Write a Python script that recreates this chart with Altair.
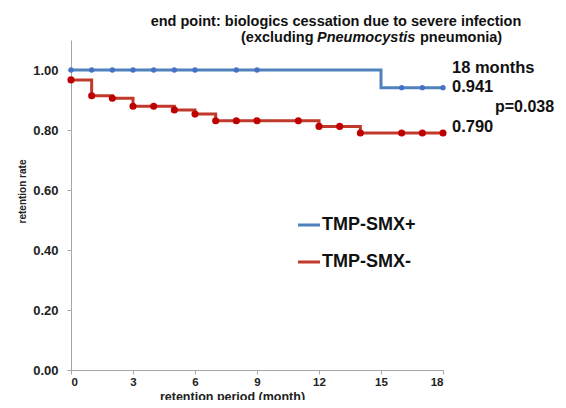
import altair as alt
import pandas as pd

# ---- data ----
red_step_month = [0, 1, 2, 3, 5, 6, 7, 12, 14, 18]
red_step_rate = [0.967, 0.914, 0.906, 0.879, 0.867, 0.853, 0.831, 0.812, 0.790, 0.790]
red_mark_month = [0, 1, 2, 3, 4, 5, 6, 7, 8, 9, 11, 12, 13, 14, 16, 17, 18]
red_mark_rate = [0.967, 0.914, 0.906, 0.879, 0.879, 0.867, 0.853, 0.831, 0.831, 0.831,
                 0.831, 0.812, 0.812, 0.790, 0.790, 0.790, 0.790]
blue_step_month = [0, 15, 18]
blue_step_rate = [1.0, 0.941, 0.941]
blue_mark_month = [0, 1, 2, 3, 4, 5, 6, 8, 9, 16, 17, 18]
blue_mark_rate = [1.0, 1.0, 1.0, 1.0, 1.0, 1.0, 1.0, 1.0, 1.0, 0.941, 0.941, 0.941]

x_ticks = [0, 3, 6, 9, 12, 15, 18]
y_ticks = [0.0, 0.2, 0.4, 0.6, 0.8, 1.0]
series_names = ["TMP-SMX+", "TMP-SMX-"]
series_colors = ["#4f81bd", "#c0392b"]
marker_colors = ["#4472c4", "#c00000"]
title_line1 = "end point: biologics cessation due to severe infection"
annot_texts = ["18 months", "0.941", "p=0.038", "0.790"]

FONT = "Liberation Sans"

xs = alt.Scale(domain=[0, 18], nice=False, zero=False)
ys = alt.Scale(domain=[0, 1.1], nice=False)

x_axis = alt.Axis(values=x_ticks, title="retention period (month)", grid=False,
                  domainColor="#a6a6a6", tickColor="#a6a6a6", tickSize=4,
                  labelFont=FONT, labelFontSize=11.5, labelFontWeight="bold",
                  labelColor="#222", labelPadding=2,
                  titleFont=FONT, titleFontSize=12.5, titleFontWeight="bold",
                  titleColor="#222", titleX=161, titleY=30, titleBaseline="alphabetic")
y_axis = alt.Axis(values=y_ticks, format=".2f", title="retention rate", grid=False,
                  domainColor="#a6a6a6", tickColor="#a6a6a6", tickSize=4,
                  labelFont=FONT, labelFontSize=13, labelFontWeight="bold",
                  labelColor="#222", labelPadding=9,
                  titleFont=FONT, titleFontSize=10, titleFontWeight="bold",
                  titleColor="#222", titleX=-44, titleY=151)

red_line_df = pd.DataFrame({"m": red_step_month, "r": red_step_rate})
red_mark_df = pd.DataFrame({"m": red_mark_month, "r": red_mark_rate})
blue_line_df = pd.DataFrame({"m": blue_step_month, "r": blue_step_rate})
blue_mark_df = pd.DataFrame({"m": blue_mark_month, "r": blue_mark_rate})

blue_line = alt.Chart(blue_line_df).mark_line(
    interpolate="step-after", color=series_colors[0], strokeWidth=3
).encode(x=alt.X("m:Q", scale=xs, axis=x_axis), y=alt.Y("r:Q", scale=ys, axis=y_axis))

blue_pts = alt.Chart(blue_mark_df).mark_point(
    filled=True, color=marker_colors[0], size=28, opacity=1
).encode(x=alt.X("m:Q", scale=xs), y=alt.Y("r:Q", scale=ys))

red_line = alt.Chart(red_line_df).mark_line(
    interpolate="step-after", color=series_colors[1], strokeWidth=3
).encode(x=alt.X("m:Q", scale=xs), y=alt.Y("r:Q", scale=ys))

red_pts = alt.Chart(red_mark_df).mark_point(
    filled=True, color=marker_colors[1], size=50, opacity=1
).encode(x=alt.X("m:Q", scale=xs), y=alt.Y("r:Q", scale=ys))

# ---- title (two lines, with italic genus name) ----
def txt(t, x, y, size, weight="bold", style="normal", align="left", color="#111"):
    return alt.Chart(pd.DataFrame({"t": [t]})).mark_text(
        font=FONT, fontSize=size, fontWeight=weight, fontStyle=style,
        align=align, baseline="middle", color=color
    ).encode(text="t:N", x=alt.value(x), y=alt.value(y))

title1 = txt(title_line1, 265, -18, 14.5, align="center")
title2a = txt("(excluding", 170, -2, 14.5)
title2b = txt("Pneumocystis", 246, -2, 14.5, style="italic")
title2c = txt("pneumonia)", 349, -2, 14.5)

# ---- annotations ----
a1 = txt(annot_texts[0], 381, 28, 16.5)
a2 = txt(annot_texts[1], 381, 47, 16.5)
a3 = txt(annot_texts[2], 424, 67, 16)
a4 = txt(annot_texts[3], 381, 87, 16.5)

# ---- legend ----
leg_df = pd.DataFrame({"name": series_names, "color": series_colors,
                       "yy": [185, 222]})
leg_lines = alt.Chart(leg_df).mark_rule(strokeWidth=3).encode(
    x=alt.value(227), x2=alt.value(249), y=alt.Y("yy:Q", scale=None),
    color=alt.Color("color:N", scale=None))
leg_text = alt.Chart(leg_df).mark_text(
    font=FONT, fontSize=18, fontWeight="bold", align="left", baseline="middle", color="#111"
).encode(x=alt.value(251), y=alt.Y("yy:Q", scale=None), text="name:N")

chart = alt.layer(
    blue_line, red_line, blue_pts, red_pts,
    title1, title2a, title2b, title2c, a1, a2, a3, a4, leg_lines, leg_text
).properties(
    width=372, height=330,
    autosize=alt.AutoSizeParams(type="none"),
    padding={"left": 63, "top": 32, "right": 115, "bottom": 30},
    background="white"
).configure_view(stroke=None)

chart.save("out.html", embed_options={"renderer": "svg", "actions": False})
